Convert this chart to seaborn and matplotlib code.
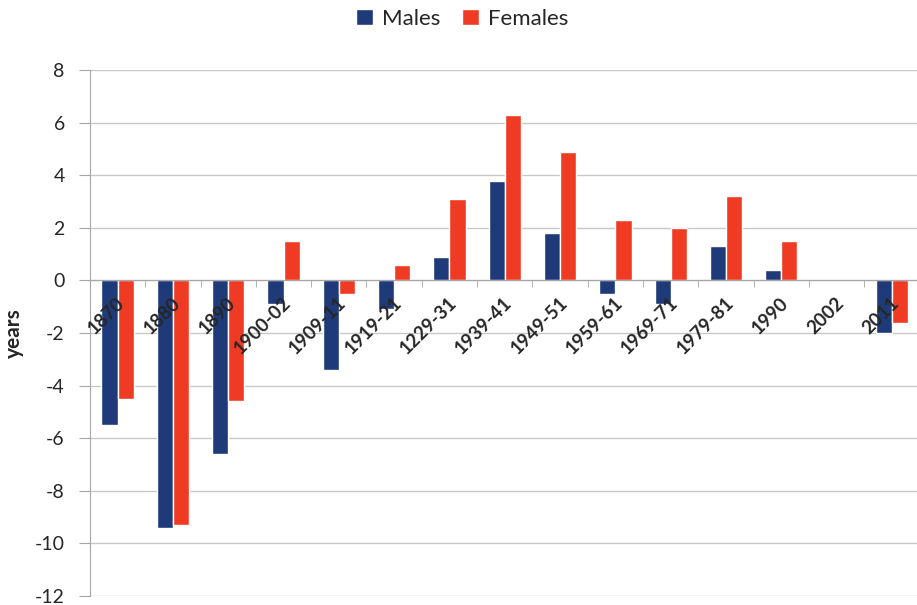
import pandas as pd
import seaborn as sns
import matplotlib.pyplot as plt

periodos = ['1870', '1880', '1890', '1900-02', '1909-11', '1919-21', '1229-31', '1939-41',
            '1949-51', '1959-61', '1969-71', '1979-81', '1990', '2002', '2011']
males = [-5.5, -9.4, -6.6, -0.9, -3.4, -1.1, 0.9, 3.8, 1.8, -0.5, -0.9, 1.3, 0.4, 0.0, -2.0]
females = [-4.5, -9.3, -4.6, 1.5, -0.5, 0.6, 3.1, 6.3, 4.9, 2.3, 2.0, 3.2, 1.5, 0.0, -1.6]

df = pd.DataFrame({
    'periodo': periodos * 2,
    'valor': males + females,
    'sexo': ['Males'] * len(periodos) + ['Females'] * len(periodos),
})

sns.set_style('white')
plt.rcParams['font.family'] = ['Lato', 'DejaVu Sans']

fig = plt.figure(figsize=(9.17, 6.05), dpi=100)
ax = fig.add_axes([0.098, 0.015, 0.905, 0.869])

cores = {'Males': '#1f3a78', 'Females': '#ef3b24'}
sns.barplot(data=df, x='periodo', y='valor', hue='sexo', palette=cores,
            width=0.58, gap=0, ax=ax, saturation=1, legend=True)

ax.set_ylim(-12, 8)
ax.set_xlim(-0.5, len(periodos) - 0.5)
ax.set_yticks(range(-12, 9, 2))
ax.set_yticklabels([str(v) for v in range(-12, 9, 2)], fontsize=14)
ax.yaxis.grid(True, color='#c8c8c8', linewidth=1)
ax.set_axisbelow(True)

# eixo x passando pelo zero
ax.spines['bottom'].set_position(('data', 0))
ax.spines['bottom'].set_color('#a6a6a6')
ax.spines['left'].set_color('#a6a6a6')
ax.spines['top'].set_visible(False)
ax.spines['right'].set_visible(False)
ax.tick_params(axis='y', length=8, color='#a6a6a6', left=True, pad=10)
ax.set_xticks([i + 0.5 for i in range(len(periodos) - 1)], minor=True)
ax.tick_params(axis='x', which='minor', length=5, color='#a6a6a6', bottom=True)
ax.set_xticks(range(len(periodos)))
ax.set_xticklabels([])
ax.tick_params(axis='x', which='major', length=0)

# rotulos inclinados logo abaixo do zero
for i, p in enumerate(periodos):
    ax.text(i + 0.08, -0.75, p, rotation=45, rotation_mode='anchor', ha='right', va='center',
            fontsize=13.5, fontweight='bold')

ax.set_xlabel('')
ax.set_ylabel('years', fontsize=15, fontweight='bold', labelpad=8)

handles, labels = ax.get_legend_handles_labels()
ax.get_legend().remove()
fig.legend(handles, labels, loc='center', bbox_to_anchor=(0.504, 0.969), ncol=2, frameon=False,
           fontsize=16, handlelength=0.75, handleheight=0.75, columnspacing=1.0, handletextpad=0.4)

plt.savefig('out.png', dpi=100)
